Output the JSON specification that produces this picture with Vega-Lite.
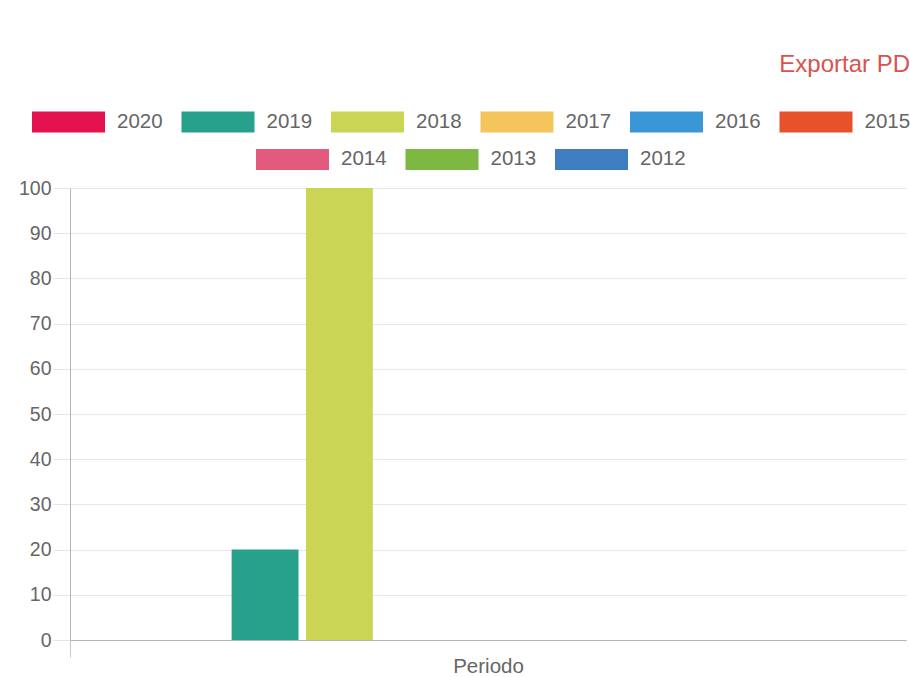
{
  "$schema": "https://vega.github.io/schema/vega-lite/v6.json",
  "width": 836,
  "height": 452,
  "autosize": {"type": "none"},
  "padding": {"left": 70, "top": 188, "right": 4, "bottom": 37},
  "background": "white",
  "title": {
    "text": "Exportar PD",
    "orient": "top",
    "anchor": "end",
    "frame": "group",
    "color": "#d9534f",
    "font": "Liberation Sans",
    "fontSize": 24,
    "fontWeight": "normal",
    "offset": 8,
    "dx": 4
  },
  "data": {
    "values": [
      {"periodo": "Periodo", "year": "2020", "value": 0},
      {"periodo": "Periodo", "year": "2019", "value": 20},
      {"periodo": "Periodo", "year": "2018", "value": 100},
      {"periodo": "Periodo", "year": "2017", "value": 0},
      {"periodo": "Periodo", "year": "2016", "value": 0},
      {"periodo": "Periodo", "year": "2015", "value": 0},
      {"periodo": "Periodo", "year": "2014", "value": 0},
      {"periodo": "Periodo", "year": "2013", "value": 0},
      {"periodo": "Periodo", "year": "2012", "value": 0}
    ]
  },
  "encoding": {
    "x": {
      "field": "periodo",
      "type": "nominal",
      "scale": {"paddingInner": 0, "paddingOuter": 0.125},
      "axis": {
        "title": null,
        "bandPosition": 0,
        "tickOffset": -83.6,
        "labelOffset": 83.6,
        "labelAngle": 0,
        "labelFontSize": 20.5,
        "labelColor": "#666666",
        "labelFont": "Liberation Sans",
        "labelPadding": -1,
        "tickSize": 17,
        "tickColor": "#c8c8c8",
        "domainColor": "#b4b4b4",
        "grid": false
      }
    },
    "xOffset": {
      "field": "year",
      "type": "nominal",
      "scale": {
        "domain": ["2020", "2019", "2018", "2017", "2016", "2015", "2014", "2013", "2012"],
        "paddingInner": 0.1,
        "paddingOuter": 0.05
      }
    },
    "y": {
      "field": "value",
      "type": "quantitative",
      "scale": {"domain": [0, 100], "nice": false},
      "axis": {
        "title": null,
        "values": [0, 10, 20, 30, 40, 50, 60, 70, 80, 90, 100],
        "labelFontSize": 19.5,
        "labelColor": "#666666",
        "labelFont": "Liberation Sans",
        "labelPadding": 2,
        "tickSize": 17,
        "tickColor": "#e4e4e4",
        "gridColor": "#e8e8e8",
        "domainColor": "#b4b4b4"
      }
    }
  },
  "layer": [
    {
      "mark": {"type": "bar", "strokeWidth": 0},
      "encoding": {
        "color": {
          "field": "year",
          "type": "nominal",
          "scale": {
            "domain": ["2020", "2019", "2018", "2017", "2016", "2015", "2014", "2013", "2012"],
            "range": ["#e3124f", "#27a08c", "#c9d553", "#f4c55c", "#3a97d6", "#e8522a", "#e45a7e", "#7db843", "#3f7dc1"]
          },
          "legend": {
            "title": null,
            "orient": "none",
            "direction": "horizontal",
            "legendX": -38,
            "legendY": -103,
            "values": ["2020", "2019", "2018", "2017", "2016", "2015"]
          }
        }
      }
    },
    {
      "transform": [{"filter": {"field": "year", "oneOf": ["2014", "2013", "2012"]}}],
      "mark": {"type": "bar", "strokeWidth": 0},
      "encoding": {
        "fill": {
          "field": "year",
          "type": "nominal",
          "scale": {
            "domain": ["2014", "2013", "2012"],
            "range": ["#e45a7e", "#7db843", "#3f7dc1"]
          },
          "legend": {
            "title": null,
            "orient": "none",
            "direction": "horizontal",
            "legendX": 186,
            "legendY": -65.5,
            "values": ["2014", "2013", "2012"]
          }
        }
      }
    }
  ],
  "config": {
    "view": {"stroke": null},
    "legend": {
      "padding": 0,
      "symbolType": "M-1,-0.2877H1V0.2877H-1Z",
      "symbolSize": 5329,
      "symbolStrokeWidth": 0,
      "symbolOpacity": 1,
      "labelFont": "Liberation Sans",
      "labelFontSize": 20.5,
      "labelColor": "#666666",
      "labelOffset": 12,
      "columnPadding": 18.5
    }
  }
}
